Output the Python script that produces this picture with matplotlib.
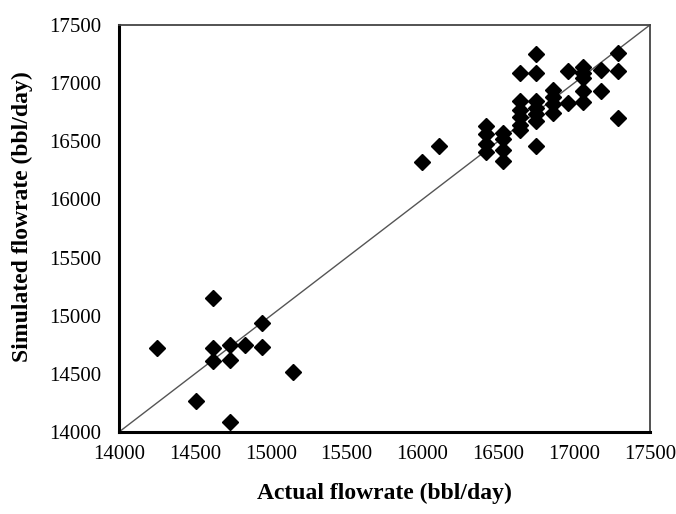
import numpy as np
import matplotlib
matplotlib.use("Agg")
import matplotlib.pyplot as plt

plt.rcParams['font.family'] = ['Liberation Serif', 'DejaVu Serif']

# actual vs simulated flowrate (bbl/day)
actual_low = [14250, 14620, 14620, 14620, 14730, 14730, 14830, 14940, 14940,
              15150, 14510, 14730]
sim_low = [14720, 15150, 14720, 14610, 14750, 14620, 14745, 14935, 14730,
           14520, 14265, 14085]

actual_mid = [16000, 16110]
sim_mid = [16320, 16460]

actual_high = [16420, 16420, 16420, 16420,
               16530, 16530, 16530, 16530,
               16640, 16640, 16640, 16640, 16640, 16640,
               16750, 16750, 16750, 16750, 16750, 16750, 16750,
               16860, 16860, 16860, 16860,
               16960, 16960,
               17060, 17060, 17060, 17060, 17060,
               17180, 17180,
               17290, 17290, 17290]
sim_high = [16630, 16560, 16480, 16410,
            16570, 16520, 16425, 16330,
            17090, 16850, 16770, 16710, 16640, 16600,
            17250, 17090, 16850, 16785, 16730, 16670, 16460,
            16940, 16880, 16820, 16740,
            17100, 16825,
            17140, 17090, 17040, 16930, 16835,
            17110, 16930,
            17260, 17100, 16700]

actual = np.array(actual_low + actual_mid + actual_high)
simulated = np.array(sim_low + sim_mid + sim_high)

fig = plt.figure(figsize=(6.76, 5.14), dpi=100)
ax = fig.add_axes([0.176, 0.1595, 0.7855, 0.792])

ax.plot([14000, 17500], [14000, 17500], color='#555555', lw=1.0, zorder=1)
ax.plot(actual, simulated, 'D', color='black', markersize=8, zorder=2)

ax.set_xlim(14000, 17500)
ax.set_ylim(14000, 17500)
ticks = np.arange(14000, 17501, 500)
ax.set_xticks(ticks)
ax.set_yticks(ticks)
ax.tick_params(length=0, labelsize=15)
ax.tick_params(axis='x', pad=9)
ax.tick_params(axis='y', pad=13)

ax.spines['left'].set_linewidth(2.2)
ax.spines['bottom'].set_linewidth(2.2)
for s in ['top', 'right']:
    ax.spines[s].set_linewidth(1.3)
    ax.spines[s].set_color('#444444')

ax.set_xlabel("Actual flowrate (bbl/day)", fontsize=17, fontweight='bold')
ax.set_ylabel("Simulated flowrate (bbl/day)", fontsize=17, fontweight='bold')
ax.xaxis.set_label_coords(0.5, -0.125)
ax.yaxis.set_label_coords(-0.162, 0.53)

fig.savefig("out.png", dpi=100)
